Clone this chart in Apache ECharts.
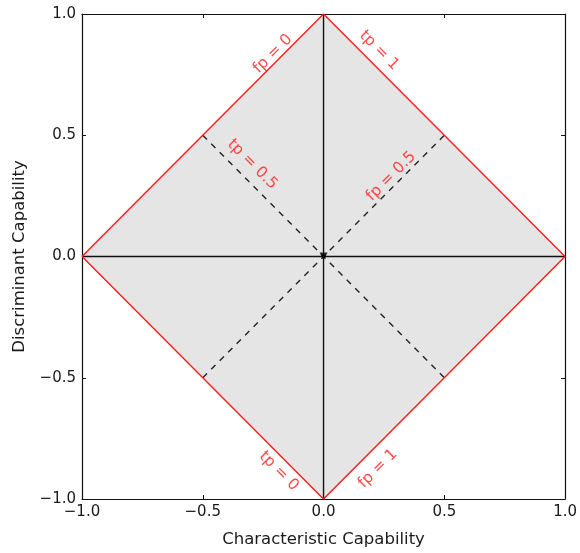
<!DOCTYPE html>
<html>
<head>
<meta charset="utf-8">
<script src="https://cdn.jsdelivr.net/npm/echarts@6/dist/echarts.min.js"></script>
<style>
  html, body { margin: 0; padding: 0; background: #fff; }
  #chart { width: 580px; height: 553px; }
</style>
</head>
<body>
<div id="chart"></div>
<script>
// axis ticks (same on both axes)
const ticks = [-1, -0.5, 0, 0.5, 1];

// shapes in data coordinates
const diamond = [[-1, 0], [0, 1], [1, 0], [0, -1]];
const edge = [[-1, 0], [0, 1], [1, 0], [0, -1], [-1, 0]];
const vertical = [[0, -1], [0, 1]];
const horizontal = [[-1, 0], [1, 0]];
const dashDown = [[-0.5, 0.5], [0.5, -0.5]];
const dashUp = [[-0.5, -0.5], [0.5, 0.5]];
const origin = [[0, 0]];

// annotation text and where its centre sits
const labelNames = ['fp = 0', 'tp = 1', 'tp = 0.5', 'fp = 0.5', 'tp = 0', 'fp = 1'];
const labelX = [-0.21, 0.23, -0.295, 0.28, -0.185, 0.225];
const labelY = [0.835, 0.85, 0.38, 0.33, -0.885, -0.875];

const font = 'DejaVu Sans';
const red = '#ff1a1a';
const fmt = (v) => v.toFixed(1).replace('-', '\u2212');

const baseAxis = {
  min: ticks[0],
  max: ticks[ticks.length - 1],
  interval: ticks[1] - ticks[0],
  splitLine: { show: false },
  axisLine: { onZero: false, lineStyle: { color: '#111', width: 1.2 } },
  axisTick: { inside: true, length: 4, lineStyle: { color: '#111' } },
};

const chart = echarts.init(document.getElementById('chart'));

const option = {
  animation: false,
  grid: { left: 82, right: 11, top: 14, bottom: 53 },
  xAxis: [
    {
      ...baseAxis,
      type: 'value',
      position: 'bottom',
      name: 'Characteristic Capability',
      nameLocation: 'middle',
      nameGap: 32,
      nameTextStyle: { fontFamily: font, fontSize: 16.5, color: '#1a1a1a' },
      axisLabel: { formatter: fmt, fontFamily: font, fontSize: 15, color: '#1a1a1a', margin: 6 },
    },
    {
      ...baseAxis,
      type: 'value',
      position: 'top',
      axisLabel: { show: false },
    },
  ],
  yAxis: [
    {
      ...baseAxis,
      type: 'value',
      position: 'left',
      name: 'Discriminant Capability',
      nameLocation: 'middle',
      nameGap: 53,
      nameTextStyle: { fontFamily: font, fontSize: 16.5, color: '#1a1a1a' },
      axisLabel: { formatter: fmt, fontFamily: font, fontSize: 15, color: '#1a1a1a', margin: 6 },
    },
    {
      ...baseAxis,
      type: 'value',
      position: 'right',
      axisLabel: { show: false },
    },
  ],
  series: [
    {
      type: 'custom',
      silent: true,
      data: origin,
      z: 1,
      renderItem: (params, api) => ({
        type: 'polygon',
        shape: { points: diamond.map((p) => api.coord(p)) },
        style: { fill: '#e5e5e5' },
      }),
    },
    {
      type: 'line',
      data: vertical,
      symbol: 'none',
      z: 2,
      lineStyle: { color: '#111', width: 1.4 },
    },
    {
      type: 'line',
      data: horizontal,
      symbol: 'none',
      z: 2,
      lineStyle: { color: '#111', width: 1.4 },
    },
    {
      type: 'line',
      data: dashDown,
      symbol: 'none',
      z: 2,
      lineStyle: { color: '#222', width: 1.4, type: [6, 6] },
    },
    {
      type: 'line',
      data: dashUp,
      symbol: 'none',
      z: 2,
      lineStyle: { color: '#222', width: 1.4, type: [6, 6] },
    },
    {
      type: 'line',
      data: edge,
      symbol: 'none',
      z: 3,
      lineStyle: { color: red, width: 1.4 },
    },
    {
      type: 'scatter',
      data: origin,
      symbol: 'triangle',
      symbolRotate: 180,
      symbolSize: 8,
      z: 4,
      itemStyle: { color: '#000' },
    },
    {
      type: 'scatter',
      symbolSize: 0,
      silent: true,
      z: 5,
      data: labelNames.map((name, i) => ({
        value: [labelX[i], labelY[i]],
        label: {
          show: true,
          formatter: name,
          position: 'inside',
          rotate: name.startsWith('fp') ? 45 : -45,
          align: 'center',
          verticalAlign: 'middle',
          fontFamily: font,
          fontSize: 15.5,
          color: red,
        },
      })),
    },
  ],
};

chart.setOption(option);
</script>
</body>
</html>
